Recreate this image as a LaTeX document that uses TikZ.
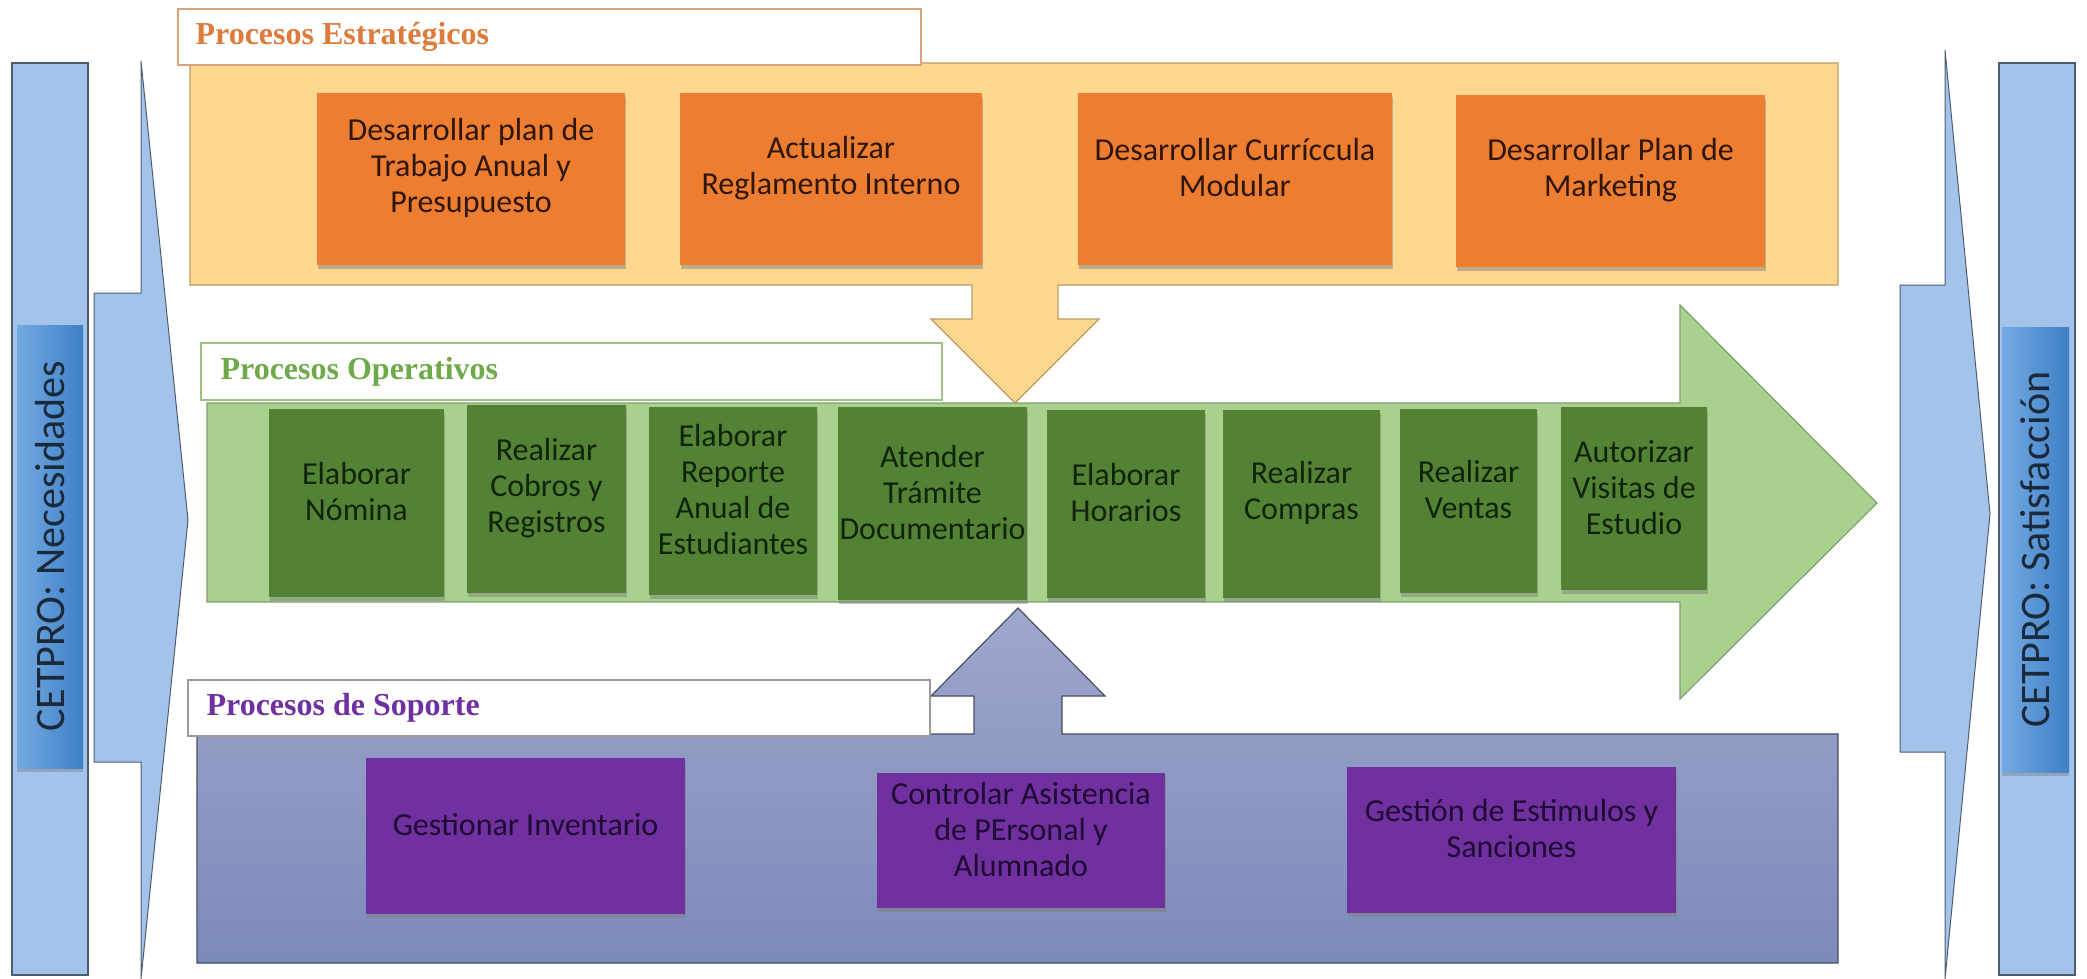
\documentclass[tikz,border=0pt]{standalone}
\usepackage{fontspec}
\setmainfont{Carlito}
\newfontfamily\headfont{Liberation Serif}
\usetikzlibrary{fit,shadows}

% palette
\definecolor{barblue}{HTML}{A3C3EA}
\definecolor{barline}{HTML}{4E5D6E}
\definecolor{tagleft}{HTML}{74AAE2}
\definecolor{tagright}{HTML}{3E7FC6}
\definecolor{sidetxt}{HTML}{1B2A3A}
\definecolor{yellowpanel}{HTML}{FFD78F}
\definecolor{yellowline}{HTML}{B99A62}
\definecolor{orangebox}{HTML}{ED7D31}
\definecolor{orangetxt}{HTML}{2E1608}
\definecolor{orangehead}{HTML}{DE7A3A}
\definecolor{orangeframe}{HTML}{D9A27A}
\definecolor{greenpanel}{HTML}{A9D18E}
\definecolor{greenline}{HTML}{809F70}
\definecolor{greenbox}{HTML}{548235}
\definecolor{greentxt}{HTML}{0F240A}
\definecolor{greenhead}{HTML}{6FAA4A}
\definecolor{greenframe}{HTML}{9CC383}
\definecolor{purpletop}{HTML}{9EA7CC}
\definecolor{purplebottom}{HTML}{7C8ABA}
\definecolor{purpleline}{HTML}{4A4E60}
\definecolor{purplebox}{HTML}{7030A0}
\definecolor{purpletxt}{HTML}{1E0A33}
\definecolor{purplehead}{HTML}{7030A0}
\definecolor{purpleframe}{HTML}{9A9A9A}

\begin{document}
\begin{tikzpicture}[x=1pt,y=-1pt,
  sidebar/.style={draw=barline, fill=barblue, line width=1.2pt, inner sep=0pt},
  chevron/.style={draw=barline, fill=barblue, line width=1pt, line join=miter},
  sidetag/.style={inner sep=0pt, left color=tagleft, right color=tagright,
    drop shadow={shadow xshift=0pt, shadow yshift=-4pt, opacity=0.45}},
  sidetext/.style={inner sep=0pt, rotate=90, text=sidetxt,
    font={\fontsize{42}{50}\selectfont}},
  labbox/.style={draw, fill=white, line width=1.2pt, inner sep=0pt},
  ltitle/.style={inner sep=0pt, anchor=west,
    font={\headfont\bfseries\fontsize{32}{36}\selectfont}},
  procbox/.style={inner sep=0pt, align=center,
    font={\fontsize{32}{36}\selectfont},
    drop shadow={shadow xshift=1pt, shadow yshift=-4pt, opacity=0.5}},
  obox/.style={procbox, fill=orangebox, text=orangetxt},
  gbox/.style={procbox, fill=greenbox, text=greentxt},
  pbox/.style={procbox, fill=purplebox, text=purpletxt}
]
\useasboundingbox (0,0) rectangle (2087,979);

% side bars with their tags
\node[sidebar, fit={(12,63) (88,975)}] (barL) {};
\node[sidebar, fit={(1999,63) (2075,975)}] (barR) {};
\node[sidetag, fit={(17,325) (83,768)}] (tagL) {};
\node[sidetag, fit={(2002,327) (2069,772)}] (tagR) {};
\node[sidetext] (txtL) at (tagL.center) {CETPRO: Necesidades};
\node[sidetext] (txtR) at (tagR.center) {CETPRO: Satisfacción};

% entry and exit chevrons
\draw[chevron] (94,293) -- (141,293) -- (141,61) -- (188,520) -- (141,979)
  -- (141,762) -- (94,762) -- cycle;
\draw[chevron] (1900,285) -- (1945,285) -- (1945,50) -- (1990,514) -- (1945,979)
  -- (1945,752) -- (1900,752) -- cycle;

% operative flow arrow
\draw[draw=greenline, fill=greenpanel, line width=1.2pt]
  (207,403) -- (1680,403) -- (1680,305) -- (1877,503) -- (1680,699)
  -- (1680,602) -- (207,602) -- cycle;

% strategic panel with its downward arrow
\draw[draw=yellowline, fill=yellowpanel, line width=1.2pt]
  (190,63) -- (1838,63) -- (1838,285) -- (1058,285) -- (1058,319)
  -- (1099,319) -- (1015,403) -- (931,319) -- (972,319) -- (972,285)
  -- (190,285) -- cycle;

% support panel with its upward arrow
\draw[draw=purpleline, top color=purpletop, bottom color=purplebottom, line width=1.2pt]
  (197,734) -- (974,734) -- (974,696) -- (931,696) -- (1018,608)
  -- (1105,696) -- (1062,696) -- (1062,734) -- (1838,734) -- (1838,963)
  -- (197,963) -- cycle;

% section headings
\node[labbox, draw=orangeframe, fit={(178,9) (921,65)}] (labE) {};
\node[ltitle, text=orangehead] (titE) at ([xshift=18pt]labE.west) {Procesos Estratégicos};
\node[labbox, draw=greenframe, fit={(201,343) (942,400)}] (labO) {};
\node[ltitle, text=greenhead] (titO) at ([xshift=20pt]labO.west) {Procesos Operativos};
\node[labbox, draw=purpleframe, fit={(188,680) (930,736)}] (labS) {};
\node[ltitle, text=purplehead] (titS) at ([xshift=19pt]labS.west) {Procesos de Soporte};

% strategic processes
\node[obox, fit={(317,93) (625,265)}] (e1) {Desarrollar plan de\\Trabajo Anual y\\Presupuesto};
\node[obox, fit={(680,93) (982,265)}] (e2) {Actualizar\\Reglamento Interno};
\node[obox, fit={(1078,93) (1392,265)}] (e3) {Desarrollar Curríccula\\Modular};
\node[obox, fit={(1456,95) (1765,267)}] (e4) {Desarrollar Plan de\\Marketing};

% operative processes
\node[gbox, fit={(269,409) (444,597)}] (o1) {Elaborar\\Nómina};
\node[gbox, fit={(467,405) (626,593)}] (o2) {Realizar\\Cobros y\\Registros};
\node[gbox, fit={(649,407) (817,595)}] (o3) {Elaborar\\Reporte\\Anual de\\Estudiantes};
\node[gbox, fit={(838,407) (1027,600)}] (o4) {Atender\\Trámite\\Documentario};
\node[gbox, fit={(1047,410) (1205,598)}] (o5) {Elaborar\\Horarios};
\node[gbox, fit={(1223,410) (1380,598)}] (o6) {Realizar\\Compras};
\node[gbox, fit={(1400,409) (1537,593)}] (o7) {Realizar\\Ventas};
\node[gbox, fit={(1561,407) (1707,590)}] (o8) {Autorizar\\Visitas de\\Estudio};

% support processes
\node[pbox, fit={(366,758) (685,914)}] (s1) {Gestionar Inventario};
\node[pbox, fit={(877,773) (1165,908)}] (s2) {Controlar Asistencia\\de PErsonal y\\Alumnado};
\node[pbox, fit={(1347,767) (1676,913)}] (s3) {Gestión de Estimulos y\\Sanciones};
\end{tikzpicture}
\end{document}
